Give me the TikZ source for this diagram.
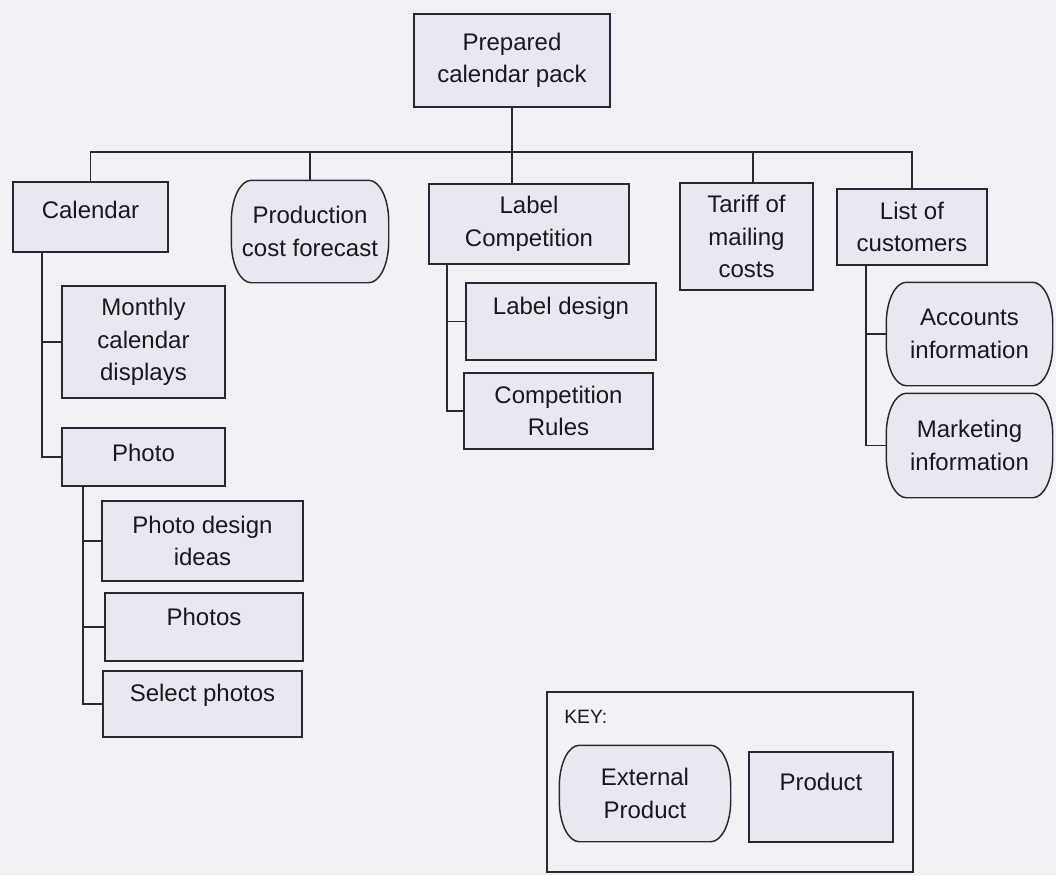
\documentclass[tikz,border=0pt]{standalone}
\usepackage{fontspec}
\setmainfont{Liberation Sans}
\usetikzlibrary{calc}
\pgfdeclarelayer{bg}
\pgfdeclarelayer{shp}
\pgfsetlayers{bg,shp,main}
\definecolor{bgc}{RGB}{241,241,246}
\definecolor{boxc}{RGB}{232,232,243}
\definecolor{linec}{RGB}{40,40,48}
\definecolor{txtc}{RGB}{25,25,28}
\tikzset{
  ln/.style={draw=linec, line width=1.1pt},
  box/.style={draw=linec, line width=1.1pt, fill=boxc, text=txtc,
    font=\fontsize{18}{24.4}\selectfont, align=center, inner sep=0pt},
  ext/.style={box, draw=none, fill=none},
  one/.style={text height=14pt, text depth=#1},
}
\newcommand{\stad}[1]{%
  \begin{pgfonlayer}{shp}
  \draw[ln, fill=boxc] let \p1=(#1.north west), \p2=(#1.south east) in
    (\x1+15pt,\y1) -- (\x2-15pt,\y1)
    arc[start angle=90, end angle=0, x radius=15pt, y radius=31pt]
    -- (\x2,\y2+31pt)
    arc[start angle=0, end angle=-90, x radius=15pt, y radius=31pt]
    -- (\x1+15pt,\y2)
    arc[start angle=270, end angle=180, x radius=15pt, y radius=31pt]
    -- (\x1,\y1-31pt)
    arc[start angle=180, end angle=90, x radius=15pt, y radius=31pt]
    -- cycle;
  \end{pgfonlayer}}
\begin{document}
\begin{tikzpicture}[x=0.75pt, y=-0.75pt]
\useasboundingbox (0,0) rectangle (1056,875);
\begin{pgfonlayer}{bg}
  \fill[bgc] (0,0) rectangle (1056,875);
\end{pgfonlayer}

% top level
\node[box, minimum width=147pt, minimum height=69.75pt] (top) at (512,60.5) {Prepared\\calendar pack};
\node[box, one=11.7pt, minimum width=116.25pt, minimum height=52.5pt] (cal) at (90.5,217) {Calendar};
\node[ext, minimum width=117pt, minimum height=75.75pt] (prod) at (310,231.5) {Production\\cost forecast};
\node[box, minimum width=150pt, minimum height=60pt] (label) at (529,224) {Label\\Competition};
\node[box, minimum width=99.75pt, minimum height=80.25pt] (tariff) at (746.5,236.5) {Tariff of\\mailing\\costs};
\node[box, minimum width=112.5pt, minimum height=57pt] (list) at (912,227) {List of\\customers};

% calendar children
\node[box, minimum width=122.25pt, minimum height=84pt] (monthly) at (143.5,342) {Monthly\\calendar\\displays};
\node[box, one=7.2pt, minimum width=122.25pt, minimum height=43.5pt] (photo) at (143.5,457) {Photo};
\node[box, minimum width=150.75pt, minimum height=60pt] (pdi) at (202.5,541) {Photo design\\ideas};
\node[box, one=16.2pt, minimum width=148.5pt, minimum height=51pt] (photos) at (204,627) {Photos};
\node[box, one=17.7pt, minimum width=149.25pt, minimum height=49.5pt] (select) at (202.5,704) {Select photos};

% label children
\node[box, one=25.2pt, minimum width=142.5pt, minimum height=57.75pt] (ldesign) at (561,321.5) {Label design};
\node[box, minimum width=141.75pt, minimum height=57pt] (rules) at (558.5,411) {Competition\\Rules};

% customer children
\node[ext, minimum width=123.75pt, minimum height=76.5pt] (accounts) at (969.5,334) {Accounts\\information};
\node[ext, minimum width=123.75pt, minimum height=77.25pt] (marketing) at (969.5,445.5) {Marketing\\information};

% key
\node[draw=linec, line width=1.1pt, minimum width=274.5pt, minimum height=135pt, inner sep=0pt] (key) at (730,782) {};
\node[anchor=west, text=txtc, font=\fontsize{14.5}{16}\selectfont, inner sep=0pt] (keyt) at (564,717) {KEY:};
\node[ext, minimum width=127.5pt, minimum height=71.25pt] (ext) at (645,793.5) {External\\Product};
\node[box, one=23.7pt, minimum width=108pt, minimum height=67.5pt] (prodkey) at (821,797) {Product};

\stad{prod}
\stad{accounts}
\stad{marketing}
\stad{ext}

% connectors
\coordinate (bus) at (0,152);
\coordinate (tf) at ([xshift=4.9pt]tariff.north);
\coordinate (ct) at (42,0);
\coordinate (ptk) at (83,0);
\coordinate (ltk) at (447,0);
\coordinate (ctk) at (866,0);

\draw[ln] (cal.north) -- (cal.north |- bus) -- (list.north |- bus) -- (list.north);
\draw[ln] (top.south) -- (top.south |- label.north);
\draw[ln] (prod.north |- bus) -- (prod.north);
\draw[ln] (tf |- bus) -- (tf);

\draw[ln] (ct |- cal.south) |- (photo.west);
\draw[ln] (ct |- monthly.west) -- (monthly.west);

\draw[ln] (ptk |- photo.south) |- (select.west);
\draw[ln] (ptk |- pdi.west) -- (pdi.west);
\draw[ln] (ptk |- photos.west) -- (photos.west);

\draw[ln] (ltk |- label.south) |- (rules.west);
\draw[ln] (ltk |- ldesign.west) -- (ldesign.west);

\draw[ln] (ctk |- list.south) |- (marketing.west);
\draw[ln] (ctk |- accounts.west) -- (accounts.west);
\end{tikzpicture}
\end{document}
